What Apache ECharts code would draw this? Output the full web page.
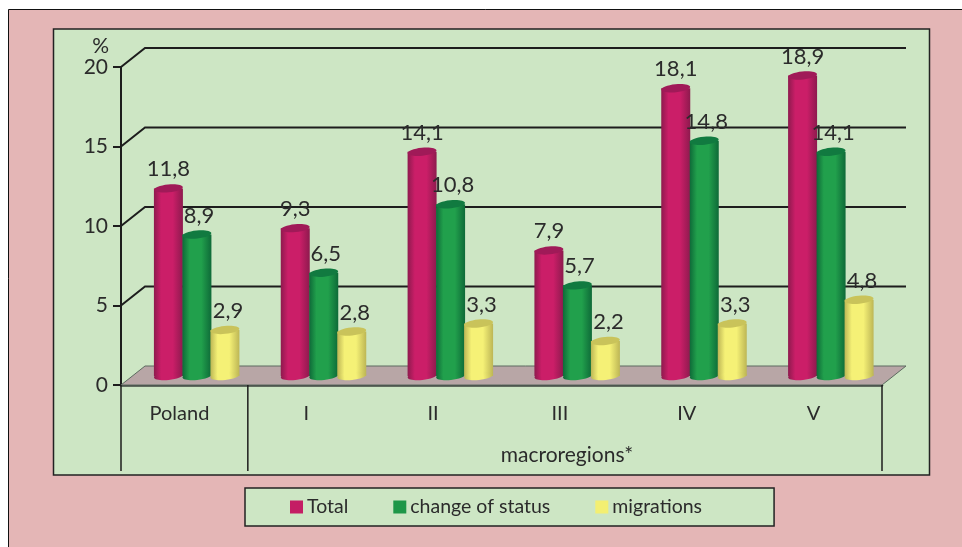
<!DOCTYPE html>
<html>
<head>
<meta charset="utf-8">
<style>
  html, body { margin: 0; padding: 0; background: #fff; }
  #chart { width: 962px; height: 547px; }
</style>
<script src="https://cdn.jsdelivr.net/npm/echarts@6/dist/echarts.min.js"></script>
</head>
<body>
<div id="chart"></div>
<script>
const categories = ['Poland', 'I', 'II', 'III', 'IV', 'V']
const total = [11.8, 9.3, 14.1, 7.9, 18.1, 18.9]
const changeOfStatus = [8.9, 6.5, 10.8, 5.7, 14.8, 14.1]
const migrations = [2.9, 2.8, 3.3, 2.2, 3.3, 4.8]
const wallTicks = [5, 10, 15, 20]
// category edges that get the long divider line
const longEdges = [0, 1, 6]

const font = 'Lato'
const textColor = '#2b2b2b'
const lineColor = '#1d1d1d'
const depthX = 24
const depthY = -19
const barWidth = 29

function cylinder(shift, labelShift, colors) {
  return (params, api) => {
    let top = api.coord([api.value(0), api.value(1)])
    let base = api.coord([api.value(0), 0])
    let cx = top[0] + shift
    let left = cx - barWidth / 2
    let topY = top[1] - 9
    let baseY = base[1] - 9
    let rx = barWidth / 2
    let body = new echarts.graphic.LinearGradient(0, 0, 1, 0, [
      { offset: 0, color: colors[0] },
      { offset: 0.25, color: colors[1] },
      { offset: 0.65, color: colors[1] },
      { offset: 1, color: colors[0] }
    ])
    return {
      type: 'group',
      children: [
        { type: 'rect', shape: { x: left, y: topY, width: barWidth, height: baseY - topY }, style: { fill: body } },
        { type: 'ellipse', shape: { cx: 0, cy: 0, rx: rx, ry: 4 }, x: cx, y: baseY, rotation: 0.1, style: { fill: body } },
        { type: 'ellipse', shape: { cx: 0, cy: 0, rx: rx, ry: 4 }, x: cx, y: topY, rotation: 0.1, style: { fill: colors[2] } },
        {
          type: 'text',
          z2: 50,
          style: {
            x: cx + labelShift,
            y: topY - 19,
            text: String(api.value(1)).replace('.', ','),
            fill: textColor,
            font: '22px ' + font,
            textAlign: 'center',
            textVerticalAlign: 'middle'
          }
        }
      ]
    }
  }
}

function backdrop(params, api) {
  let halfBand = api.size([1, 0])[0] / 2
  let origin = api.coord([0, 0])
  let end = api.coord([categories.length - 1, 0])
  let x0 = origin[0] - halfBand
  let x1 = end[0] + halfBand
  let y0 = origin[1]
  let children = [{
    type: 'polygon',
    shape: { points: [[x0, y0], [x0 + depthX, y0 + depthY], [x1 + depthX, y0 + depthY], [x1, y0]] },
    style: { fill: '#b8a6a6', stroke: '#5d6b60', lineWidth: 1 }
  }]
  wallTicks.forEach(v => {
    let y = api.coord([0, v])[1]
    children.push({
      type: 'polyline',
      shape: { points: [[x0, y], [x0 + depthX, y + depthY], [x1 + depthX, y + depthY]] },
      style: { fill: null, stroke: lineColor, lineWidth: 2 }
    })
  })
  longEdges.forEach(i => {
    let x = x0 + i * halfBand * 2
    children.push({
      type: 'line',
      shape: { x1: x, y1: y0, x2: x, y2: y0 + 86 },
      style: { stroke: lineColor, lineWidth: 1.5 }
    })
  })
  return { type: 'group', children: children }
}

function toData(values) {
  return values.map((v, i) => [i, v])
}

const myChart = echarts.init(document.getElementById('chart'), null, { renderer: 'canvas' })
myChart.setOption({
  animation: false,
  textStyle: { fontFamily: font, color: textColor },
  graphic: [
    { type: 'rect', z: -20, shape: { x: 8.5, y: 9.5, width: 960, height: 545 }, style: { fill: '#e4b6b6', stroke: '#111', lineWidth: 1 } },
    { type: 'rect', z: -10, shape: { x: 53.5, y: 29, width: 876, height: 446 }, style: { fill: '#cde6c4', stroke: '#222', lineWidth: 1.5 } },
    { type: 'text', z: 10, x: 567, y: 455, style: { text: 'macroregions*', fill: textColor, font: '21px ' + font, textAlign: 'center', textVerticalAlign: 'middle' } }
  ],
  legend: {
    left: 245,
    top: 488,
    padding: [9, 72, 9, 45],
    itemGap: 45,
    itemWidth: 13,
    itemHeight: 13,
    itemStyle: { borderWidth: 0 },
    icon: 'rect',
    backgroundColor: '#cde6c4',
    borderColor: '#222',
    borderWidth: 1.5,
    borderRadius: 0,
    textStyle: { fontFamily: font, fontSize: 19.5, color: textColor, padding: [0, 0, 0, -1] },
    data: ['Total', 'change of status', 'migrations']
  },
  grid: { left: 121, right: 80, top: 67, bottom: 162 },
  xAxis: {
    type: 'category',
    data: categories,
    axisLine: { lineStyle: { color: '#3c443e', width: 2.5 } },
    axisTick: { alignWithLabel: false, length: 43, lineStyle: { color: lineColor, width: 1.5 } },
    axisLabel: { margin: 19, fontFamily: font, fontSize: 20, color: textColor, padding: [0, 10, 0, 0] }
  },
  yAxis: {
    type: 'value',
    min: 0,
    max: 20,
    interval: 5,
    name: '%',
    nameGap: 9,
    nameTextStyle: { fontFamily: font, fontSize: 21, color: textColor, align: 'right', padding: [0, 12, 0, 0] },
    splitLine: { show: false },
    axisLine: { show: true, lineStyle: { color: lineColor, width: 2 } },
    axisTick: { show: true, length: 8, lineStyle: { color: lineColor, width: 2 } },
    axisLabel: { margin: 13, fontFamily: font, fontSize: 21, color: textColor }
  },
  series: [
    { type: 'custom', name: 'backdrop', z: 1, silent: true, clip: false, data: [[0, 0]], renderItem: backdrop },
    { type: 'custom', name: 'Total', z: 2, clip: false, itemStyle: { color: '#c41e64' }, data: toData(total), renderItem: cylinder(-16, 0, ['#8e1a4e', '#cb1e68', '#a01a58']) },
    { type: 'custom', name: 'change of status', z: 3, clip: false, itemStyle: { color: '#1e9748' }, data: toData(changeOfStatus), renderItem: cylinder(12.5, 2, ['#0e6a38', '#21a04c', '#117a40']) },
    { type: 'custom', name: 'migrations', z: 4, clip: false, itemStyle: { color: '#f3ef72' }, data: toData(migrations), renderItem: cylinder(40.5, 3, ['#bdb655', '#f5f176', '#c9c35a']) }
  ]
})
</script>
</body>
</html>
